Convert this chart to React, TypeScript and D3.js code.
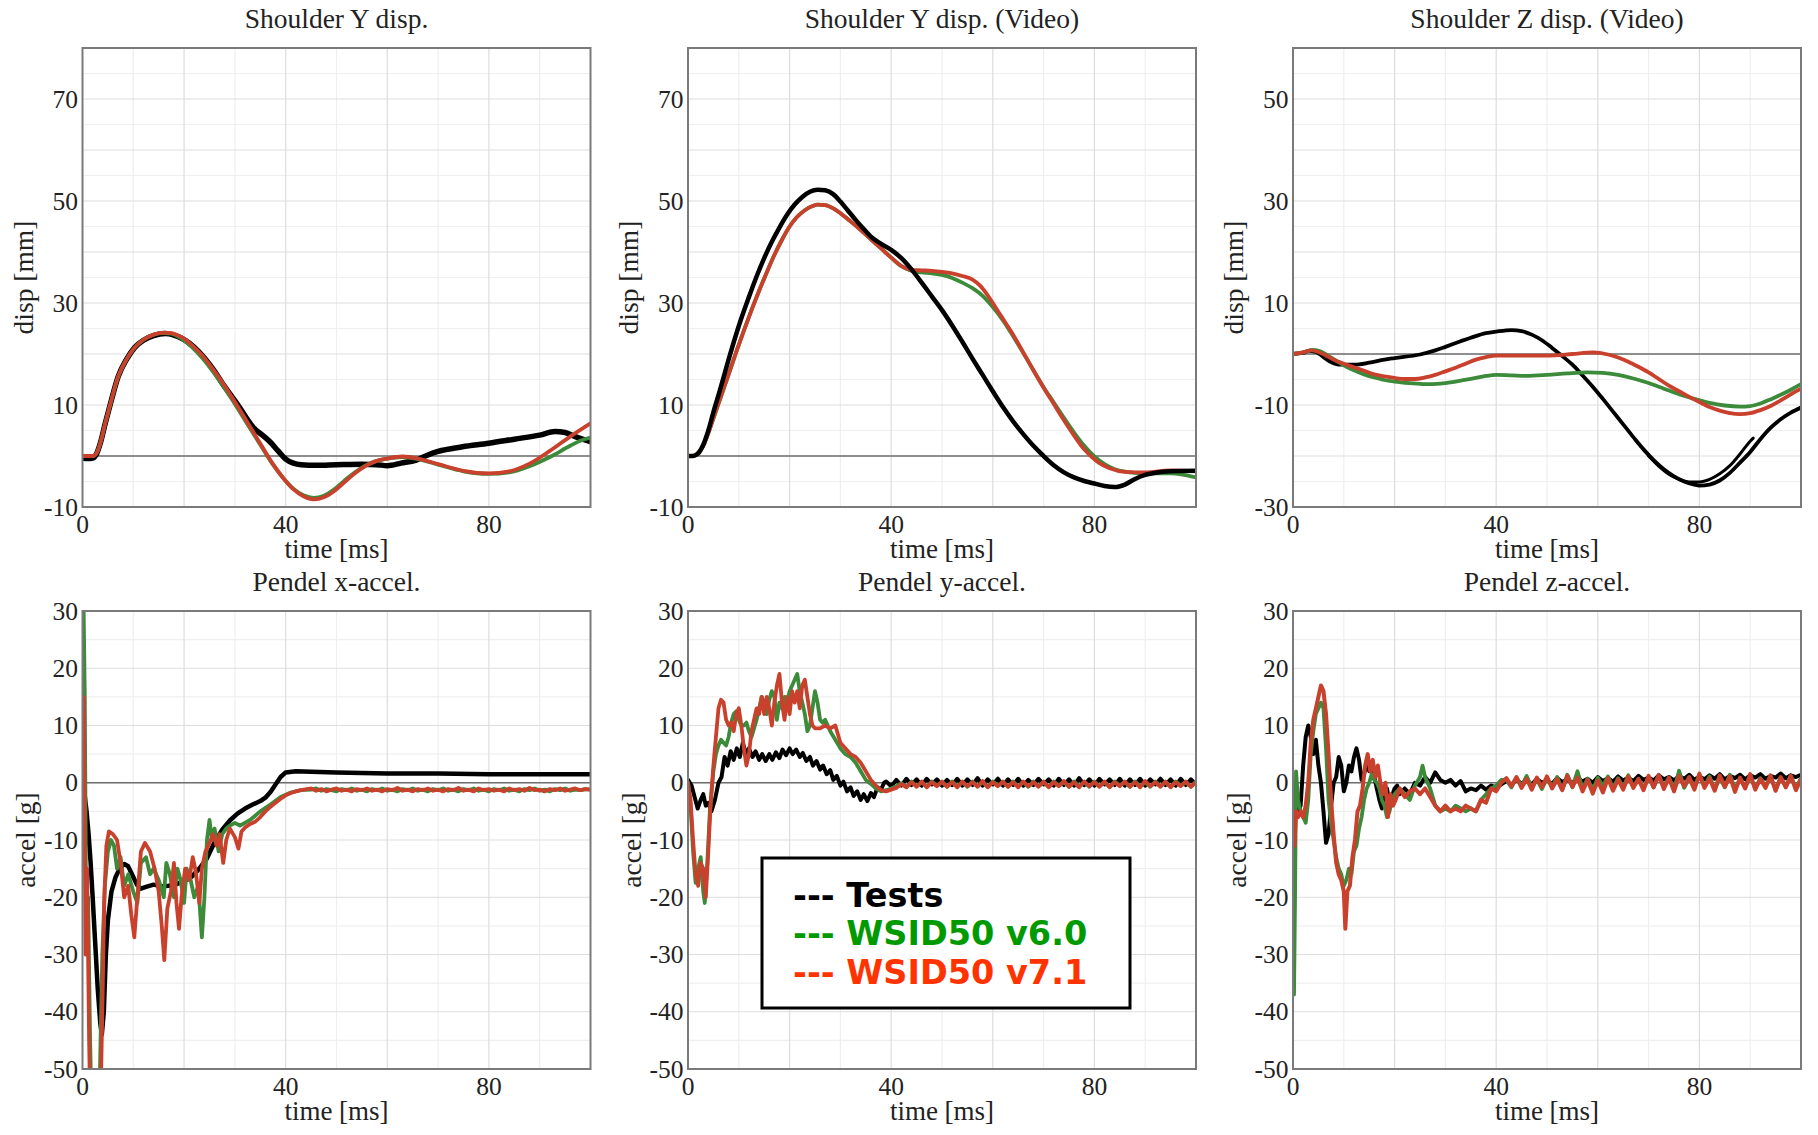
import React from "react";
import * as d3 from "d3";

type Pt = [number, number];

// ---------- axes / ticks ----------
const TIME_DOMAIN: [number, number] = [0, 100];
const TIME_TICKS = [0, 40, 80];
const DISP_DOMAIN: [number, number] = [-10, 80];
const DISP_TICKS = [-10, 10, 30, 50, 70];
const DISPZ_DOMAIN: [number, number] = [-30, 60];
const DISPZ_TICKS = [-30, -10, 10, 30, 50];
const ACC_DOMAIN: [number, number] = [-50, 30];
const ACC_TICKS = [-50, -40, -30, -20, -10, 0, 10, 20, 30];

const SERIES_NAMES = ["Tests", "WSID50 v6.0", "WSID50 v7.1"];
const LEGEND_COLORS = ["#000000", "#009900", "#ff3300"];
const LINE_COLORS = ["#000000", "#3b8b3b", "#c9412c"];

// ---------- Shoulder Y disp. ----------
const shYTests: Pt[] = [[0,-0.4],[1,-0.5],[2,-0.4],[2.8,0.5],[3.5,2.5],[4.5,6.5],[5.7,11],[7,15.5],[8.7,19],[10.3,21.3],[12,22.7],[14,23.6],[16.3,24],[18,23.7],[20,22.8],[22,21.3],[24,19.2],[26,16.6],[27.7,14],[29.3,11.8],[30.8,9.7],[32.3,7.4],[33.8,5.4],[35.3,4.2],[36.9,2.8],[38.5,1],[40,-0.6],[41.5,-1.4],[43,-1.7],[46,-1.8],[50,-1.7],[55,-1.6],[58,-1.7],[60,-1.9],[62.7,-1.4],[65.7,-0.8],[68,0.2],[70,0.9],[74.8,1.8],[80,2.5],[85,3.3],[90,4.1],[93,4.8],[95,4.6],[97,3.8],[100,2.8]];
const shYV60: Pt[] = [[0,0],[2,0],[2.8,0.6],[3.5,2.5],[4.5,6.5],[5.7,11],[7,15.5],[8.7,19],[10.3,21.3],[12,22.8],[14,23.8],[16,24.1],[17.5,24],[19.5,23],[21.5,21.4],[23.5,19.3],[25.5,16.8],[27.5,14],[29.5,11],[31.5,7.8],[33.5,4.6],[35.5,1.4],[37.5,-1.7],[39.5,-4.3],[41.5,-6.4],[43.5,-7.7],[45.5,-8.2],[47.5,-7.8],[49.5,-6.6],[51.5,-4.9],[53.5,-3.3],[55.5,-2],[57.5,-1.1],[60,-0.5],[63,-0.2],[66,-0.6],[70,-1.7],[75,-3],[80,-3.5],[84,-3.2],[88,-2],[92,-0.2],[96,2],[98,3],[100,3.6]];
const shYV71: Pt[] = [[0,0],[2,0],[2.8,0.6],[3.5,2.5],[4.5,6.5],[5.7,11],[7,15.5],[8.7,19],[10.3,21.3],[12,22.8],[14,23.8],[16,24.2],[17.5,24.1],[19.5,23.3],[21.5,21.8],[23.5,19.8],[25.5,17.3],[27.5,14.5],[29.5,11.4],[31.5,8.2],[33.5,4.9],[35.5,1.6],[37.5,-1.6],[39.5,-4.3],[41.5,-6.5],[43.5,-7.9],[45.5,-8.5],[47.5,-8.1],[49.5,-6.9],[51.5,-5.2],[53.5,-3.5],[55.5,-2.1],[57.5,-1.1],[60,-0.5],[63,-0.1],[66,-0.5],[70,-1.6],[75,-2.9],[80,-3.4],[84,-3],[88,-1.5],[92,1],[96,3.8],[100,6.4]];

// ---------- Shoulder Y disp. (Video) ----------
const shYVidTests: Pt[] = [[0,0],[1,0],[2,0.5],[3,2.2],[4,5],[5,8.6],[6.2,12.6],[7.5,17.2],[9,22.3],[10.5,27],[12,31.2],[13.5,35.2],[15,38.8],[16.5,42],[18,44.8],[19.5,47.3],[21,49.3],[22.5,50.8],[24,51.8],[25.5,52.2],[27,52.1],[28.5,51.4],[30,49.9],[31.5,48.1],[33,46.3],[34.5,44.6],[36,43],[38,41.6],[40,40.4],[42,38.8],[44,36.6],[46,34],[48,31.3],[50,28.6],[52,25.6],[54,22.4],[56,19.1],[58,15.9],[60,12.7],[62,9.6],[64,6.8],[66,4.3],[68,2],[70,0],[72,-1.8],[74,-3.2],[76,-4.2],[78,-4.9],[80,-5.4],[82,-5.9],[84,-6.1],[86,-5.6],[88,-4.5],[90,-3.7],[92,-3.3],[95,-3],[100,-2.9]];
const shYVidV60: Pt[] = [[0,0],[1,0],[2,0.6],[3,2],[4,4.5],[5,7.4],[6.5,11.7],[8,16],[9.5,20.4],[11,24.6],[12.5,28.6],[14,32.4],[15.5,36],[17,39.4],[18.5,42.4],[20,45],[21.5,46.9],[23,48.2],[24.5,49],[25.5,49.3],[27,49.2],[28.5,48.6],[30,47.6],[32,46],[34,44.3],[36,42.5],[38,40.7],[40,38.9],[42,37.2],[44,36.3],[46,36],[48,35.8],[50,35.5],[52,34.9],[54,34],[56,32.9],[58,31.4],[60,29.2],[62,26.6],[64,23.5],[66,20.2],[68,16.8],[70,13.5],[72,10.5],[74,7.5],[76,4.6],[78,2],[80,-0.1],[82,-1.6],[84,-2.6],[87,-3.2],[90,-3.4],[95,-3.4],[100,-4.2]];
const shYVidV71: Pt[] = [[0,0],[1,0],[2,0.6],[3,2],[4,4.5],[5,7.4],[6.5,11.7],[8,16],[9.5,20.4],[11,24.6],[12.5,28.6],[14,32.4],[15.5,36],[17,39.4],[18.5,42.4],[20,45],[21.5,46.9],[23,48.2],[24.5,49],[25.5,49.3],[27,49.2],[28.5,48.6],[30,47.6],[32,46],[34,44.3],[36,42.5],[38,40.7],[40,38.9],[42,37.3],[44,36.5],[46,36.4],[48,36.3],[50,36.1],[52,35.8],[54,35.3],[56,34.6],[57.5,33.4],[59,31.5],[60.5,29.2],[62,26.9],[64,23.8],[66,20.3],[68,16.8],[70,13.4],[72,10.2],[74,7],[76,4],[78,1.3],[79.5,-0.2],[81,-1.4],[83,-2.4],[86,-3.1],[90,-3.2],[95,-2.8],[100,-3]];

// ---------- Shoulder Z disp. (Video) ----------
const shZTests: Pt[] = [[0,0],[2,0.2],[3,0.6],[4.5,0.4],[6,-0.6],[7.5,-1.6],[9,-2.1],[12,-2.1],[15,-1.7],[18,-1.1],[20,-0.8],[25,-0.1],[28,0.7],[30,1.4],[33,2.5],[35,3.2],[38,4.1],[40,4.4],[43,4.7],[45,4.5],[47,3.8],[49,2.7],[51,1.2],[53,-0.4],[55,-2.1],[57,-4.2],[59,-6.4],[61,-8.8],[63,-11.3],[65,-13.8],[67,-16.3],[69,-18.7],[71,-20.8],[73,-22.6],[75,-24],[77,-25],[79,-25.6],[80,-25.8],[82,-25.6],[84,-24.8],[86,-23.3],[88,-21.3],[90,-19.2],[92,-16.7],[94,-14.5],[96,-12.8],[98,-11.5],[100,-10.5]];
const shZTests2: Pt[] = [[70,-20],[72,-22],[74,-23.6],[76,-24.6],[78,-25.1],[80,-25.1],[82,-24.6],[84,-23.5],[86,-21.9],[88,-19.6],[90,-17.1],[90.6,-16.5]];
const shZV60: Pt[] = [[0,0],[2,0.3],[4,0.8],[5.5,0.5],[7,-0.4],[8.5,-1.3],[10,-2.2],[12,-3.2],[14,-4],[16,-4.6],[18,-5.1],[20,-5.4],[23,-5.7],[26,-5.9],[29,-5.8],[32,-5.4],[35,-4.9],[38,-4.3],[40,-4.1],[43,-4.2],[46,-4.3],[50,-4.1],[54,-3.8],[58,-3.6],[61,-3.7],[64,-4.1],[67,-4.8],[70,-5.7],[73,-6.8],[76,-7.9],[79,-8.8],[82,-9.6],[85,-10.1],[88,-10.3],[90,-10.2],[92,-9.7],[94,-8.9],[96,-8],[98,-7],[100,-5.9]];
const shZV71: Pt[] = [[0,0],[2,0.3],[3.5,0.7],[5,0.4],[6.5,-0.3],[8,-1.1],[10,-1.9],[12,-2.6],[14,-3.3],[16,-4],[18,-4.4],[20,-4.7],[22,-4.9],[24,-4.9],[26,-4.6],[28,-4.1],[30,-3.4],[32,-2.7],[34,-1.9],[36,-1.1],[38,-0.6],[40,-0.3],[45,-0.3],[50,-0.3],[55,0],[59,0.3],[62,-0.1],[64,-0.7],[66,-1.5],[68,-2.5],[70,-3.6],[72,-4.9],[74,-6.2],[76,-7.3],[78,-8.4],[80,-9.4],[82,-10.4],[84,-11.1],[86,-11.6],[88,-11.8],[90,-11.6],[92,-11],[94,-10.2],[96,-9.1],[98,-7.9],[100,-6.8]];

// ---------- Pendel x-accel. ----------
const pxTests: Pt[] = [[0,0],[0.4,-2],[0.8,-5],[1.2,-9],[1.6,-14],[2,-20],[2.5,-28],[3,-36],[3.5,-42],[3.8,-44],[4.2,-40],[4.6,-30],[5,-24],[5.7,-19],[6.5,-16.5],[7.3,-15],[8.2,-14.2],[9,-14.6],[9.9,-16.3],[10.7,-17.8],[11.5,-18.5],[12.5,-18.2],[14,-17.8],[15.5,-18.1],[17,-18],[18.5,-17.7],[20,-17.2],[21.5,-16.4],[23,-15],[24.5,-13.2],[26,-10.4],[27.5,-8.2],[29,-6.6],[30.5,-5.4],[32,-4.5],[33.5,-3.8],[35,-3.2],[36,-2.6],[37,-1.6],[38,-0.3],[39,1],[40,1.8],[42,2],[45,1.9],[50,1.8],[60,1.6],[70,1.6],[80,1.5],[90,1.5],[100,1.5]];
const pxV60: Pt[] = [[0,0],[0.15,35],[0.45,15],[0.75,-28],[1.1,-20],[1.5,-45],[1.8,-58],[2.6,-58],[3.4,-52],[3.9,-30],[4.4,-18],[5,-12],[5.6,-10],[6.2,-11],[6.8,-15],[7.5,-13],[8.2,-18],[9,-16],[10,-19],[10.8,-21],[11.5,-14],[12.5,-13],[13.3,-16],[14,-15],[15,-17],[16,-20],[16.5,-14],[17.2,-16],[18,-20],[18.7,-15],[19.3,-17],[20,-21],[20.5,-15],[21.3,-17],[22,-20],[22.8,-18],[23.5,-27],[24,-20],[24.5,-10],[25,-6.5],[25.5,-10],[26,-8],[26.8,-12],[27.5,-9],[28.3,-8],[29,-7.5],[30,-7],[31,-7.5],[33,-6.5],[35,-5],[37,-3.8],[39,-2.5],[41,-1.7],[43,-1.3]];
const pxV60Tail = [-1.2,-1.0,-1.4,-1.1,-1.3,-1.5,-1.1,-1.3,-1.0,-1.4,-1.2,-1.5,-1.1,-1.3,-1.0,-1.4,-1.2,-1.5,-1.1,-1.3,-1.0,-1.4,-1.2,-1.5,-1.1,-1.3,-1.0,-1.4,-1.2,-1.5,-1.1,-1.3,-1.0,-1.4,-1.2,-1.5,-1.1,-1.3,-1.0,-1.4,-1.2,-1.5,-1.1,-1.3,-1.0,-1.4,-1.2,-1.5,-1.1,-1.3,-1.0,-1.4,-1.2,-1.3,-1.1,-1.2];
const pxV71: Pt[] = [[0,0],[0.25,15],[0.6,-30],[0.9,-15],[1.3,-45],[1.6,-60],[2.5,-58],[3.5,-58],[3.9,-40],[4.3,-20],[4.7,-11],[5.2,-8.5],[6,-9],[6.8,-10],[7.5,-14],[8.2,-20],[9,-18],[9.6,-23],[10.2,-27],[10.8,-20],[11.5,-12],[12.3,-10.5],[13.3,-12],[14.2,-15],[15,-19],[15.6,-25],[16.1,-31],[16.7,-22],[17.4,-19],[18,-14],[18.5,-21],[19,-25.5],[19.5,-20],[20.2,-15],[21,-17],[21.7,-13],[22.3,-15.5],[23,-21],[23.5,-15],[24.2,-12],[25,-10.5],[25.7,-9],[26.4,-11],[27,-9],[27.7,-14],[28.3,-10],[29,-8],[30,-9.5],[30.7,-11.5],[31.3,-8.5],[32,-7.8],[33,-7.2],[34,-6.8],[35,-6],[36,-5],[37,-4.2],[38,-3.5],[39,-2.8],[40,-2.2],[41,-1.8],[42,-1.5],[43,-1.3]];
const pxV71Tail = [-1.0,-1.4,-1.1,-1.5,-1.2,-1.0,-1.4,-1.2,-1.5,-1.1,-1.3,-1.0,-1.4,-1.2,-1.5,-1.1,-1.3,-0.9,-1.4,-1.2,-1.5,-1.1,-1.3,-1.0,-1.4,-1.2,-1.5,-1.1,-1.3,-0.9,-1.4,-1.2,-1.5,-1.0,-1.3,-1.1,-1.4,-1.2,-1.5,-1.0,-1.3,-1.1,-1.4,-0.9,-1.3,-1.2,-1.5,-1.1,-1.3,-1.0,-1.4,-1.2,-1.0,-1.3,-1.1,-1.2];

// ---------- Pendel y-accel. ----------
const pyTests: Pt[] = [[0,0.5],[0.7,-0.5],[1.3,-2.5],[1.9,-4.5],[2.5,-3],[3,-2],[3.5,-4],[4,-3.5],[4.6,-5],[5.3,-3],[6,0],[6.6,1],[7.2,4.5],[7.8,3],[8.4,5.5],[9,4],[9.6,6],[10.2,4.5],[10.8,7],[11.4,5],[12,6],[12.7,4.5],[13.3,5.5],[14,4],[14.6,5],[15.3,3.8],[16,5],[16.6,4],[17.3,5.3],[18,4.3],[18.6,5.8],[19.3,4.8],[20,6],[20.6,5],[21.3,5.8],[22,4.5],[22.6,5.2],[23.3,3.8],[24,4.5],[24.6,3],[25.3,3.8],[26,2.3],[26.6,3],[27.3,1.5],[28,2.2],[28.6,0.5],[29.3,1.2],[30,-0.5],[30.6,0.2],[31.3,-1.5],[32,-0.8],[32.6,-2.3],[33.3,-1.5],[34,-3],[34.6,-2],[35.3,-3.2],[36,-1.8],[36.6,-2.5],[37.3,-0.8],[38,-1.2],[38.6,0]];
const pyTestsTail = [0.2,-0.6,0.5,-0.5,0.7,-0.4,0.6,-0.5,0.7,-0.3,0.6,-0.5,0.5,-0.4,0.7,-0.5,0.6,-0.4,0.8,-0.5,0.6,-0.3,0.7,-0.5,0.6,-0.4,0.7,-0.5,0.5,-0.4,0.7,-0.3,0.6,-0.5,0.7,-0.4,0.6,-0.5,0.8,-0.4,0.6,-0.5,0.7,-0.3,0.6,-0.4,0.7,-0.5,0.6,-0.4,0.7,-0.5,0.6,-0.3,0.7,-0.4,0.6,-0.5,0.7,-0.4,0.6,-0.3];
const pyV60: Pt[] = [[0,0],[0.5,-4],[1,-12],[1.5,-17.5],[2,-15],[2.5,-13],[3,-19],[3.3,-21],[3.8,-14],[4.3,-5],[5,2],[5.5,5],[6,6.5],[6.5,7.5],[7,7],[7.5,6.5],[8,8],[8.5,10.5],[9,12],[9.5,12.5],[10,11],[10.5,10],[11,10],[11.5,10.5],[12,9],[12.5,8],[13,9.5],[13.5,11],[14,13],[14.5,15],[15,14],[15.5,12],[16,14.5],[16.5,16],[17,15],[17.5,11],[18,14],[18.5,13],[19,15],[19.5,14],[20,16],[20.5,17],[21,18],[21.5,19],[22,16],[22.5,14],[23,12],[23.5,9],[24,10],[24.5,13],[25,16],[25.5,14],[26,11],[26.5,10.5],[27,11],[28,9],[29,7.5],[30,6],[31,5],[32,4.5],[33,3.5],[34,2],[35,0.5],[36,-0.2],[37,-1],[38,-1.5],[39,-1.3],[40,-1]];
const pyV60Tail = [-0.6,-0.1,-0.7,0.2,-0.6,0.1,-0.7,0.2,-0.5,0.1,-0.7,0.2,-0.6,0.1,-0.7,0.2,-0.6,0.1,-0.7,0.2,-0.5,0.1,-0.7,0.2,-0.6,0.1,-0.7,0.2,-0.6,0.1,-0.7,0.2,-0.5,0.1,-0.7,0.2,-0.6,0.1,-0.7,0.2,-0.6,0.1,-0.7,0.2,-0.5,0.1,-0.7,0.2,-0.6,0.1,-0.7,0.2,-0.6,0.1,-0.7,0.2,-0.5,0.1,-0.7,0.2];
const pyV71: Pt[] = [[0,0],[0.5,-3],[1,-10],[1.5,-16],[2,-18],[2.5,-14],[3,-15],[3.5,-20],[4,-12],[4.5,-3],[5,3],[5.5,8],[6,13],[6.5,14.5],[7,14],[7.5,11],[8,10],[8.5,10.5],[9,9],[9.5,12],[10,13],[10.5,10],[11,6],[11.5,3],[12,5],[12.5,9],[13,11],[13.5,13],[14,12],[14.5,15],[15,12],[15.5,15],[16,13],[16.5,10],[17,14],[17.5,17],[18,19],[18.5,14],[19,11],[19.5,15],[20,12],[20.5,16],[21,14],[21.5,16],[22,13],[22.5,17],[23,18],[23.5,15],[24,12],[24.5,10],[25,9.5],[26,9.5],[27,10],[28,9.5],[29,10],[30,7],[31,6],[32,5],[33,4.5],[34,3.5],[35,2],[36,0.5],[37,-0.5],[38,-1.3],[39,-1.5],[40,-1.2]];
const pyV71Tail = [-0.9,-0.2,-0.8,0.1,-0.7,0.2,-0.8,0.1,-0.6,0.2,-0.7,0.1,-0.8,0.2,-0.6,0.1,-0.7,0.3,-0.8,0.1,-0.6,0.2,-0.7,0.1,-0.8,0.2,-0.6,0.1,-0.7,0.2,-0.8,0.1,-0.6,0.3,-0.7,0.1,-0.8,0.2,-0.6,0.1,-0.7,0.2,-0.8,0.1,-0.6,0.2,-0.7,0.1,-0.8,0.3,-0.6,0.1,-0.7,0.2,-0.8,0.1,-0.6,0.2,-0.7,0.1];

// ---------- Pendel z-accel. ----------
const pzTests: Pt[] = [[0,0],[0.5,-3],[1,-5],[1.5,-4],[2,3],[2.5,8],[3,10],[3.5,8],[4,5],[4.5,7.5],[5,3],[5.5,0],[6,-5],[6.5,-10.5],[7,-9],[7.5,-4],[8,0],[8.5,1],[9,4.5],[9.5,3],[10,-1.5],[10.5,0],[11,3],[11.5,2],[12,4.5],[12.5,6],[13,4],[13.5,0.5],[14,1.5],[14.5,3.5],[15,2],[15.5,3],[16,1],[16.5,-1],[17,-3],[17.5,-4.5],[18,-2],[18.5,-1],[19,-3.5],[20,-1],[20.5,-0.5],[21,-2],[22,-1],[23,-2],[24,0],[25,-0.5],[26,1],[27,0],[28,1.8],[29,0.5],[30,0],[31,0.5],[32,-0.5],[33,0.3],[34,-1.5],[35,-1],[36,-1.3],[37,-0.5],[38,-1.2],[39,-0.5],[40,-0.8],[41,-0.3]];
const pzTestsTail = [0.3,-0.4,0.6,-0.2,0.5,-0.3,0.7,0.0,0.4,-0.2,0.8,0.1,0.6,-0.1,0.9,0.2,0.7,0.0,1.0,0.3,0.8,0.2,1.1,0.4,0.9,0.3,1.2,0.5,0.9,0.4,1.3,0.6,1.0,0.4,1.2,0.7,1.4,0.5,1.1,0.6,1.3,0.7,1.5,0.6,1.2,0.8,1.4,0.6,1.3,0.9,1.5,0.7,1.2,0.9,1.6,0.8,1.3,1.0,1.4];
const pzV60: Pt[] = [[0,0],[0.2,-37],[0.4,-20],[0.6,2],[1,-3],[1.5,-5],[2,-6],[2.5,-7],[3,-3],[3.5,5],[4,9],[4.5,12],[5,13],[5.5,14],[6,13],[6.5,6],[7,-3],[7.5,-7],[8,-10],[8.5,-13],[9,-15],[9.5,-16],[10,-18],[10.5,-17],[11,-15],[11.5,-16],[12,-12],[12.5,-11],[13,-8],[13.5,-6],[14,-3],[14.5,-1],[15,0],[15.5,1.5],[16,0.5],[16.5,0],[17,-1],[17.5,-3],[18,-4],[18.5,-6],[19,-5],[19.5,-3],[20,-2],[21,-1],[22,-2],[23,-3],[24,-0.5],[25,1],[25.5,3],[26,1],[26.5,0],[27,-1],[28,-4],[29,-5],[30,-4.5],[31,-5],[32,-4],[33,-4.5],[34,-5],[35,-4.5],[36,-5],[37,-3],[38,-2],[39,-1],[40,-0.5],[41,0.5]];
const pzV60Tail = [0.5,-0.8,0.9,-0.6,1.2,-0.9,0.6,-1.1,0.8,-0.7,1.0,-1.2,1.4,-0.8,2.0,-1.0,0.7,-1.3,0.9,-0.6,1.1,-1.0,0.8,-0.9,1.3,-0.7,0.6,-1.1,1.0,-0.8,1.2,-0.6,0.9,-1.2,2.1,-0.9,0.8,-1.0,1.3,-0.7,1.1,-1.2,0.9,-0.8,1.4,-1.1,0.7,-0.9,1.2,-1.0,0.8,-0.7,1.1,-1.3,0.9,-0.6,1.2,-1.0,0.8];
const pzV71: Pt[] = [[0,-8],[0.3,-11],[0.6,-5],[1,-6],[1.5,-5],[2,-6],[2.5,-4],[3,0],[3.5,7],[4,11],[4.5,13],[5,15],[5.5,17],[6,16],[6.5,12],[7,5],[7.5,-3],[8,-9],[8.5,-14],[9,-16],[9.5,-17],[10,-19],[10.3,-25.5],[10.7,-19],[11.2,-18],[11.7,-13],[12.2,-10],[12.7,-5],[13.2,-4],[13.7,-1],[14.2,3],[14.7,5],[15.2,2],[15.7,4],[16.2,1],[16.7,3],[17.2,0],[17.7,-2],[18.2,0],[18.7,-6],[19.2,-2],[19.7,-4],[20.2,-3],[21,-1],[22,-2.5],[23,-1.5],[24,-1],[25,-2],[26,-1],[27,-2.5],[28,-4],[29,-5],[30,-4],[31,-5],[32,-4.5],[33,-5],[34,-4],[35,-4.5],[36,-5],[37,-3],[38,-3.5],[39,-1],[40,-1.5],[41,0]];
const pzV71Tail = [0.8,-0.6,1.0,-0.9,0.7,-1.2,0.9,-0.8,1.1,-1.0,0.6,-1.3,1.2,-0.7,0.9,-1.5,0.5,-1.9,0.4,-1.7,0.8,-1.4,0.6,-1.2,1.1,-0.9,0.7,-1.3,1.2,-0.8,1.4,-1.1,0.9,-1.5,1.2,-0.6,1.0,-1.2,1.6,-0.9,0.8,-1.4,1.3,-0.7,1.1,-1.6,0.9,-1.0,1.5,-1.2,0.7,-0.9,1.3,-1.4,1.0,-0.8,1.2,-1.3,0.6];

// uniformly sampled tail (1 ms sampling) appended after the hand-read part
const withTail = (pts: Pt[], t0: number, vals: number[]): Pt[] =>
  pts.concat(vals.map((v, i) => [t0 + i, v] as Pt));

type Series = { data: Pt[]; color: number; width: number };
type Panel = {
  title: string;
  yLabel: string;
  yDomain: [number, number];
  yTicks: number[];
  smooth: boolean;
  series: Series[];
};

const PANELS: Panel[] = [
  { title: "Shoulder Y disp.", yLabel: "disp [mm]", yDomain: DISP_DOMAIN, yTicks: DISP_TICKS, smooth: true,
    series: [ { data: shYTests, color: 0, width: 5.5 }, { data: shYV60, color: 1, width: 3.8 }, { data: shYV71, color: 2, width: 3.8 } ] },
  { title: "Shoulder Y disp. (Video)", yLabel: "disp [mm]", yDomain: DISP_DOMAIN, yTicks: DISP_TICKS, smooth: true,
    series: [ { data: shYVidV60, color: 1, width: 3.8 }, { data: shYVidV71, color: 2, width: 3.8 }, { data: shYVidTests, color: 0, width: 4.5 } ] },
  { title: "Shoulder Z disp. (Video)", yLabel: "disp [mm]", yDomain: DISPZ_DOMAIN, yTicks: DISPZ_TICKS, smooth: true,
    series: [ { data: shZTests, color: 0, width: 3.8 }, { data: shZTests2, color: 0, width: 3 }, { data: shZV60, color: 1, width: 3.8 }, { data: shZV71, color: 2, width: 3.8 } ] },
  { title: "Pendel x-accel.", yLabel: "accel [g]", yDomain: ACC_DOMAIN, yTicks: ACC_TICKS, smooth: false,
    series: [ { data: pxTests, color: 0, width: 4.5 }, { data: withTail(pxV60, 45, pxV60Tail), color: 1, width: 3.8 }, { data: withTail(pxV71, 45, pxV71Tail), color: 2, width: 3.8 } ] },
  { title: "Pendel y-accel.", yLabel: "accel [g]", yDomain: ACC_DOMAIN, yTicks: ACC_TICKS, smooth: false,
    series: [ { data: withTail(pyTests, 39, pyTestsTail), color: 0, width: 4 }, { data: withTail(pyV60, 41, pyV60Tail), color: 1, width: 3.8 }, { data: withTail(pyV71, 41, pyV71Tail), color: 2, width: 3.8 } ] },
  { title: "Pendel z-accel.", yLabel: "accel [g]", yDomain: ACC_DOMAIN, yTicks: ACC_TICKS, smooth: false,
    series: [ { data: withTail(pzTests, 42, pzTestsTail), color: 0, width: 4 }, { data: withTail(pzV60, 42, pzV60Tail), color: 1, width: 3.8 }, { data: withTail(pzV71, 42, pzV71Tail), color: 2, width: 4 } ] },
];

const COL_X = [82.5, 688, 1293];
const ROW_Y = [48, 611];
const PW = 508;
const PH = [459, 458];
const SERIF = "'Liberation Serif', 'Times New Roman', serif";

function PanelView({ p, idx }: { p: Panel; idx: number }) {
  const col = idx % 3;
  const row = Math.floor(idx / 3);
  const x0 = COL_X[col];
  const y0 = ROW_Y[row];
  const h = PH[row];
  const x = d3.scaleLinear().domain(TIME_DOMAIN).range([x0, x0 + PW]);
  const y = d3.scaleLinear().domain(p.yDomain).range([y0 + h, y0]);
  const line = d3
    .line<Pt>()
    .x((d) => x(d[0]))
    .y((d) => y(d[1]))
    .curve(p.smooth ? d3.curveMonotoneX : d3.curveLinear);

  const xMajor = d3.range(20, 100, 20);
  const xMinor = d3.range(10, 100, 20);
  const yAll = d3.range(Math.ceil(p.yDomain[0] / 5) * 5, p.yDomain[1] + 0.01, 5);
  const yMajor = yAll.filter((v) => v % 10 === 0);
  const yMinor = yAll.filter((v) => v % 10 !== 0);
  const clipId = `clip-${idx}`;

  return (
    <g>
      <defs>
        <clipPath id={clipId}>
          <rect x={x0} y={y0} width={PW} height={h} />
        </clipPath>
      </defs>
      <rect x={x0} y={y0} width={PW} height={h} fill="#ffffff" />
      {xMinor.map((v) => (
        <line key={"xm" + v} x1={x(v)} x2={x(v)} y1={y0} y2={y0 + h} stroke="#efefef" strokeWidth={1.2} />
      ))}
      {yMinor.map((v) => (
        <line key={"ym" + v} x1={x0} x2={x0 + PW} y1={y(v)} y2={y(v)} stroke="#efefef" strokeWidth={1.2} />
      ))}
      {xMajor.map((v) => (
        <line key={"xM" + v} x1={x(v)} x2={x(v)} y1={y0} y2={y0 + h} stroke="#dddddd" strokeWidth={1.2} />
      ))}
      {yMajor.map((v) => (
        <line key={"yM" + v} x1={x0} x2={x0 + PW} y1={y(v)} y2={y(v)} stroke="#dddddd" strokeWidth={1.2} />
      ))}
      <line x1={x0} x2={x0 + PW} y1={y(0)} y2={y(0)} stroke="#6e6e6e" strokeWidth={1.6} />
      <g clipPath={`url(#${clipId})`}>
        {p.series.map((s, i) => (
          <path
            key={i}
            d={line(s.data) || ""}
            fill="none"
            stroke={LINE_COLORS[s.color]}
            strokeWidth={s.width}
            strokeLinejoin="round"
            strokeLinecap="round"
          />
        ))}
      </g>
      <rect x={x0} y={y0} width={PW} height={h} fill="none" stroke="#7a7a7a" strokeWidth={2} />
      {p.yTicks.map((v) => (
        <text key={"yt" + v} x={x0 - 4.5} y={y(v)} textAnchor="end" dominantBaseline="central"
          fontFamily={SERIF} fontSize={25.5} fill="#222">
          {v}
        </text>
      ))}
      {TIME_TICKS.map((v) => (
        <text key={"xt" + v} x={x(v)} y={y0 + h + 26} textAnchor="middle" fontFamily={SERIF} fontSize={25.5} fill="#222">
          {v}
        </text>
      ))}
      <text x={x0 + PW / 2} y={y0 + h + 51} textAnchor="middle" fontFamily={SERIF} fontSize={27} fill="#222">
        time [ms]
      </text>
      <text x={x0 + PW / 2} y={row === 0 ? 28 : 591} textAnchor="middle" fontFamily={SERIF} fontSize={27.5} fill="#222">
        {p.title}
      </text>
      <text
        transform={`translate(${x0 - (row === 0 ? 50 : 47.5)}, ${y0 + h / 2}) rotate(-90)`}
        textAnchor="middle"
        fontFamily={SERIF}
        fontSize={27.5}
        fill="#222"
      >
        {p.yLabel}
      </text>
    </g>
  );
}

function Legend() {
  const lx = 762, ly = 858, lw = 368, lh = 150;
  const baselines = [907, 945, 984];
  return (
    <g>
      <rect x={lx} y={ly} width={lw} height={lh} fill="#ffffff" stroke="#000" strokeWidth={3} />
      {SERIES_NAMES.map((n, i) => (
        <text key={n} x={793} y={baselines[i]} fontFamily="'DejaVu Sans', Verdana, sans-serif" fontWeight="bold"
          fontSize={33.5} fill={LEGEND_COLORS[i]}>
          {"--- " + n}
        </text>
      ))}
    </g>
  );
}

export default function App() {
  return (
    <svg width={1818} height={1135} viewBox="0 0 1818 1135"
      style={{ position: "absolute", left: 0, top: 0, background: "#fff" }}>
      <rect x={0} y={0} width={1818} height={1135} fill="#ffffff" />
      {PANELS.map((p, i) => (
        <PanelView key={i} p={p} idx={i} />
      ))}
      <Legend />
    </svg>
  );
}
